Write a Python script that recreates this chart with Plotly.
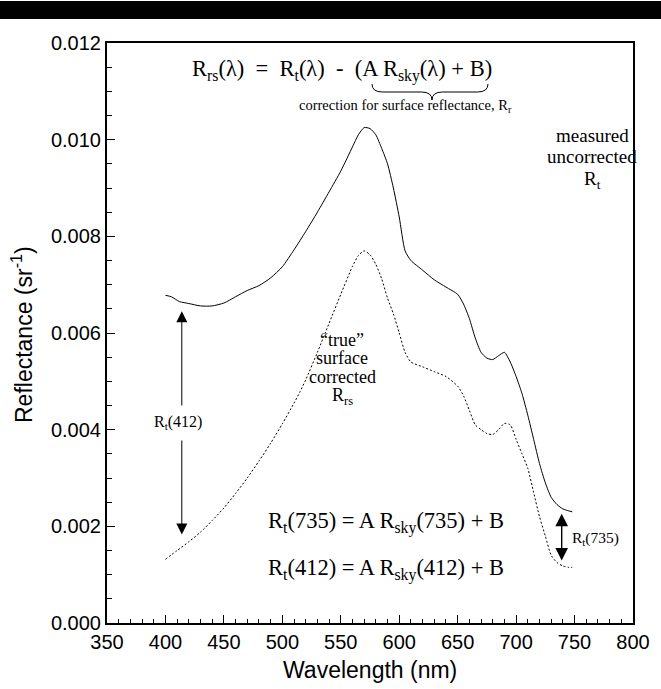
import plotly.graph_objects as go

# ---- data ----
wl_meas = [400, 405, 412, 420, 430, 440, 450, 460, 470, 480, 490, 500, 510, 520, 530, 540,
           550, 560, 565, 570, 575, 580, 585, 590, 595, 600, 605, 610, 620, 630, 640, 650,
           655, 660, 665, 670, 675, 680, 685, 690, 695, 700, 705, 710, 715, 720, 725, 730,
           735, 740, 745, 748]
r_t = [0.00678, 0.00675, 0.00665, 0.00661, 0.00656, 0.00656, 0.00662, 0.00675, 0.00688,
       0.00698, 0.00714, 0.00737, 0.00772, 0.00810, 0.00850, 0.00892, 0.00935, 0.00985,
       0.01010, 0.01025, 0.01023, 0.01010, 0.00982, 0.00950, 0.00900, 0.00840, 0.00770,
       0.00750, 0.00730, 0.00710, 0.00695, 0.00680, 0.00660, 0.00630, 0.00590, 0.00560,
       0.00548, 0.00545, 0.00553, 0.00560, 0.00540, 0.00510, 0.00475, 0.00430, 0.00380,
       0.00330, 0.00290, 0.00260, 0.00245, 0.00236, 0.00232, 0.00230]

wl_true = [400, 410, 420, 430, 440, 450, 460, 470, 480, 490, 500, 510, 515, 520, 530, 540,
           550, 560, 565, 570, 575, 580, 585, 590, 595, 600, 605, 610, 620, 630, 640, 650,
           655, 660, 665, 670, 675, 680, 685, 690, 695, 700, 705, 710, 715, 720, 725, 730,
           735, 740, 745, 748]
r_rs = [0.00132, 0.00150, 0.00168, 0.00188, 0.00212, 0.00238, 0.00268, 0.00300, 0.00335,
        0.00372, 0.00412, 0.00455, 0.00478, 0.00503, 0.00560, 0.00620, 0.00680, 0.00738,
        0.00760, 0.00770, 0.00762, 0.00742, 0.00712, 0.00672, 0.00640, 0.00600, 0.00560,
        0.00540, 0.00530, 0.00520, 0.00510, 0.00490, 0.00470, 0.00440, 0.00410, 0.00400,
        0.00392, 0.00390, 0.00400, 0.00413, 0.00410, 0.00380, 0.00350, 0.00320, 0.00270,
        0.00220, 0.00180, 0.00140, 0.00125, 0.00118, 0.00115, 0.00115]

x_ticks = [350, 400, 450, 500, 550, 600, 650, 700, 750, 800]
y_ticks = [0.000, 0.002, 0.004, 0.006, 0.008, 0.010, 0.012]

# arrow spans (data)
wl_412, rt_412_top, rt_412_bot = 414, 0.00645, 0.00183
wl_735, rt_735_top, rt_735_bot = 739, 0.00226, 0.00126

# ---- layout geometry ----
W, H = 661, 689
L, R, T, B = 107, 28, 43, 66
PW, PH = W - L - R, H - T - B

def px(xp):
    return (xp - L) / PW

def py(yp):
    return (H - B - yp) / PH

SERIF = "Liberation Serif, Times New Roman, serif"
SANS = "Liberation Sans, Arial, Helvetica, sans-serif"

fig = go.Figure()
fig.add_trace(go.Scatter(x=wl_meas, y=r_t, mode="lines",
                         line=dict(color="black", width=1, shape="spline", smoothing=0.6),
                         showlegend=False))
fig.add_trace(go.Scatter(x=wl_true, y=r_rs, mode="lines",
                         line=dict(color="black", width=1, dash="2px,2px", shape="spline", smoothing=0.6),
                         showlegend=False))

ann = []
def text(x, y, s, size, font=SERIF, **kw):
    d = dict(x=px(x), y=py(y), xref="paper", yref="paper", text=s, showarrow=False,
             font=dict(family=font, size=size, color="black"), xanchor="center", yanchor="middle")
    d.update(kw)
    ann.append(d)

text(342, 70, "R<sub>rs</sub>(λ)  =  R<sub>t</sub>(λ)  -  (A R<sub>sky</sub>(λ) + B)", 22.5)
text(405, 106, "correction for surface reflectance, R<sub>r</sub>", 14.5)
text(592, 135, "measured", 19)
text(592, 157, "uncorrected", 19)
text(592, 180, "R<sub>t</sub>", 19)
text(342, 340, "“true”", 18)
text(342, 358, "surface", 18)
text(342, 377, "corrected", 18)
text(342, 396, "R<sub>rs</sub>", 18)
text(178, 422, "R<sub>t</sub>(412)", 16)
text(386, 522, "R<sub>t</sub>(735) = A R<sub>sky</sub>(735) + B", 22.5)
text(386, 569, "R<sub>t</sub>(412) = A R<sub>sky</sub>(412) + B", 22.5)
text(570, 538, "R<sub>t</sub>(735)", 15.5, xanchor="left")
text(22, 335, "Reflectance (sr<sup>-1</sup>)", 23, font=SANS, textangle=-90)
text(370, 670, "Wavelength (nm)", 23, font=SANS)

# arrows
yl_top = 0.012 * (H - B - 407) / PH
yl_bot = 0.012 * (H - B - 439) / PH
ann.append(dict(x=wl_412, y=rt_412_top, ax=wl_412, ay=yl_top, xref="x", yref="y",
                axref="x", ayref="y", text="", showarrow=True, arrowhead=2,
                arrowsize=2.2, arrowwidth=1, arrowcolor="black"))
ann.append(dict(x=wl_412, y=rt_412_bot, ax=wl_412, ay=yl_bot, xref="x", yref="y",
                axref="x", ayref="y", text="", showarrow=True, arrowhead=2,
                arrowsize=2.2, arrowwidth=1, arrowcolor="black"))
ann.append(dict(x=wl_735, y=rt_735_top, ax=wl_735, ay=rt_735_bot, xref="x", yref="y",
                axref="x", ayref="y", text="", showarrow=True, arrowhead=2,
                arrowside="end+start", arrowsize=1.8, arrowwidth=1.4, arrowcolor="black"))

# brace (pixel -> paper)
x0, x1, xc = px(372), px(488), px(432)
yt, ym, yb = py(84), py(92), py(100)
d = 0.02
brace = (f"M {x0},{yt} Q {x0},{ym} {x0+d},{ym} L {xc-d},{ym} Q {xc},{ym} {xc},{yb} "
         f"Q {xc},{ym} {xc+d},{ym} L {x1-d},{ym} Q {x1},{ym} {x1},{yt}")
shapes = [
    dict(type="path", path=brace, xref="paper", yref="paper",
         line=dict(color="black", width=1)),
    dict(type="rect", xref="paper", yref="paper", x0=px(0), x1=px(W), y0=py(19), y1=py(1),
         fillcolor="black", line=dict(width=0)),
]

fig.update_layout(
    width=W, height=H, margin=dict(l=L, r=R, t=T, b=B),
    paper_bgcolor="white", plot_bgcolor="white",
    annotations=ann, shapes=shapes, showlegend=False,
    font=dict(family=SANS, color="black"),
)
fig.update_xaxes(range=[350, 800], tickvals=x_ticks, ticks="inside", ticklen=8, tickwidth=1,
                 tickcolor="black", showline=True, linecolor="black", linewidth=2, mirror=True,
                 showgrid=False, zeroline=False, tickfont=dict(family=SANS, size=20),
                 minor=dict(dtick=10, ticks="inside", ticklen=4, tickcolor="black", showgrid=False))
fig.update_yaxes(range=[0, 0.012], tickvals=y_ticks, tickformat=".3f", ticks="inside", ticklen=8,
                 tickwidth=1, tickcolor="black", showline=True, linecolor="black", linewidth=2,
                 mirror=True, showgrid=False, zeroline=False, tickfont=dict(family=SANS, size=20),
                 minor=dict(dtick=0.0005, ticks="inside", ticklen=5, tickcolor="black", showgrid=False))

fig.write_html("out.html", config={"displayModeBar": False},
               post_script="document.body.style.margin='0px';")
